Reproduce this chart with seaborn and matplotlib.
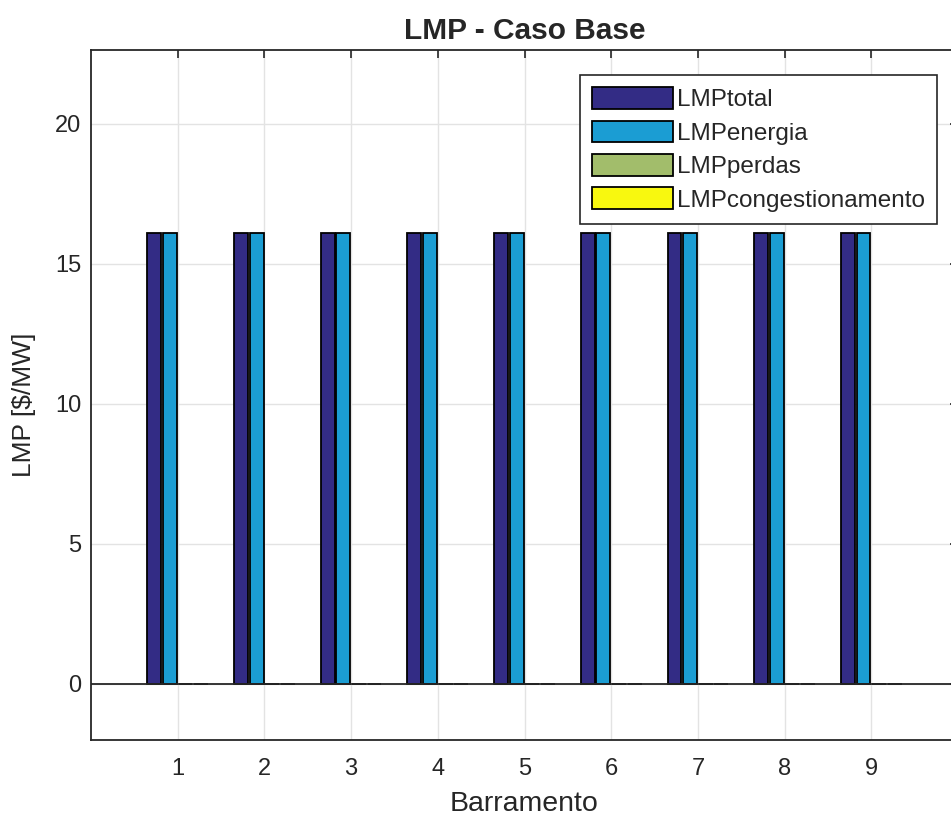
import numpy as np
import pandas as pd
import seaborn as sns
import matplotlib.pyplot as plt
from matplotlib.patches import Patch

# dados
barramento = [1, 2, 3, 4, 5, 6, 7, 8, 9]
lmp_total = [16.1, 16.1, 16.1, 16.1, 16.1, 16.1, 16.1, 16.1, 16.1]
lmp_energia = [16.1, 16.1, 16.1, 16.1, 16.1, 16.1, 16.1, 16.1, 16.1]
lmp_perdas = [0, 0, 0, 0, 0, 0, 0, 0, 0]
lmp_congest = [0, 0, 0, 0, 0, 0, 0, 0, 0]
series = ['LMPtotal', 'LMPenergia', 'LMPperdas', 'LMPcongestionamento']
cores = ['#332c85', '#1b9dd3', '#a2bd6b', '#f8f80f']

df = pd.DataFrame({
    'Barramento': barramento * 4,
    'LMP': lmp_total + lmp_energia + lmp_perdas + lmp_congest,
    'serie': np.repeat(series, len(barramento)),
})

sns.set_style('white')
plt.rcParams['font.family'] = ['Liberation Sans', 'DejaVu Sans']
cinza = '#262626'

fig = plt.figure(figsize=(9.51, 8.21), dpi=100)
ax = fig.add_axes([91/951, 81/821, 867/951, 690/821])

sns.barplot(data=df, x='Barramento', y='LMP', hue='serie', hue_order=series,
            palette=cores, saturation=1, native_scale=True, width=0.72, gap=0.11,
            edgecolor='black', linewidth=1.3, errorbar=None, ax=ax, zorder=3)

ax.set_xlim(0, 10)
ax.set_ylim(-2, 22.64)
ax.set_xticks(barramento)
ax.set_yticks([0, 5, 10, 15, 20])
ax.grid(True, color='#e3e3e3', linewidth=1, zorder=0)
ax.set_axisbelow(True)
ax.axhline(0, color=cinza, linewidth=1.3, zorder=4)

for s in ax.spines.values():
    s.set_color(cinza)
    s.set_linewidth(1.3)
ax.tick_params(direction='in', top=True, right=True, length=6, width=1.2,
               color=cinza, labelcolor=cinza, labelsize=17)
ax.tick_params(axis='x', pad=13)
ax.tick_params(axis='y', pad=7)

ax.set_xlabel('Barramento', fontsize=20.5, color=cinza, labelpad=8)
ax.set_ylabel('LMP [\\$/MW]', fontsize=19, color=cinza)
ax.yaxis.set_label_coords(-0.063, 0.486)
ax.set_title('LMP - Caso Base', fontsize=21.5, fontweight='bold', pad=8)

handles = [Patch(facecolor=c, edgecolor='black', linewidth=1.3) for c in cores]
leg = ax.legend(handles, series, loc='upper right', bbox_to_anchor=(937/951, 1 - 75/821),
                bbox_transform=fig.transFigure, borderaxespad=0, fontsize=17.5,
                handlelength=3.33, handleheight=1.0, handletextpad=0.16,
                labelspacing=0.38, borderpad=0.5, fancybox=False, framealpha=1)
leg.get_frame().set_edgecolor(cinza)
leg.get_frame().set_linewidth(1.2)
for t in leg.get_texts():
    t.set_color(cinza)

fig.savefig('out.png', dpi=100)
